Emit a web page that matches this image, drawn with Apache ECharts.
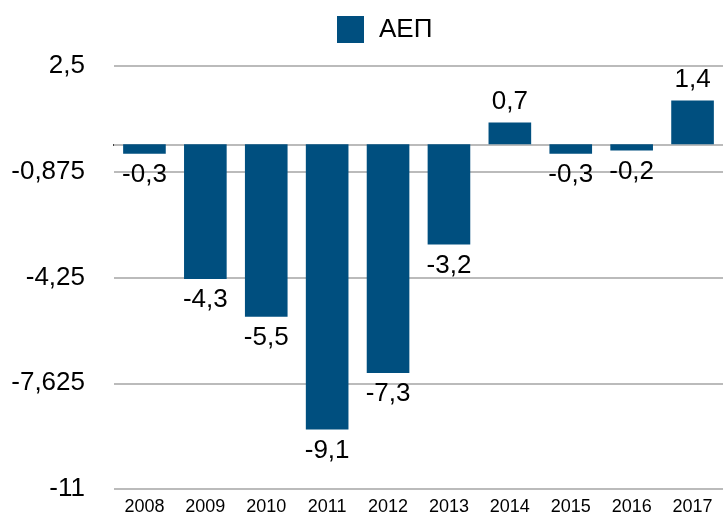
<!DOCTYPE html>
<html>
<head>
<meta charset="utf-8">
<script src="https://cdn.jsdelivr.net/npm/echarts@6/dist/echarts.min.js"></script>
<style>
  html, body { margin: 0; padding: 0; background: #fff; }
  #chart { width: 723px; height: 518px; }
</style>
</head>
<body>
<div id="chart"></div>
<script>
// data
var years = ['2008', '2009', '2010', '2011', '2012', '2013', '2014', '2015', '2016', '2017']
var gdp = [-0.3, -4.3, -5.5, -9.1, -7.3, -3.2, 0.7, -0.3, -0.2, 1.4]
var seriesName = 'ΑΕΠ'

function comma(v) {
  return String(v).replace('.', ',')
}

var chart = echarts.init(document.getElementById('chart'))

var option = {
  animation: false,
  textStyle: { fontFamily: 'Liberation Sans, Arial, sans-serif' },
  legend: {
    data: [seriesName],
    left: 332,
    top: 11,
    itemWidth: 27,
    itemHeight: 27,
    icon: 'rect',
    textStyle: {
      fontSize: 26,
      color: '#000',
      padding: [0, 0, 0, 10],
      fontFamily: 'Liberation Sans, Arial, sans-serif'
    }
  },
  grid: {
    left: 114,
    right: -2,
    top: 66,
    bottom: 29,
    containLabel: false
  },
  xAxis: {
    type: 'category',
    data: years,
    axisLine: { lineStyle: { color: '#000', width: 2 } },
    axisTick: { show: false },
    axisLabel: { color: '#000', fontSize: 18, margin: 9 }
  },
  yAxis: {
    type: 'value',
    min: -11,
    max: 2.5,
    interval: 3.375,
    axisLine: { show: false },
    axisTick: { show: false },
    splitLine: { lineStyle: { color: '#bbbbbb', width: 2 } },
    axisLabel: {
      color: '#000',
      fontSize: 26,
      margin: 29,
      formatter: function (v) { return comma(v) }
    }
  },
  series: [{
    name: seriesName,
    type: 'bar',
    barCategoryGap: '30%',
    itemStyle: { color: '#004f7f' },
    data: gdp.map(function (v) {
      return {
        value: v,
        label: { position: v < 0 ? 'bottom' : 'top' }
      }
    }),
    label: {
      show: true,
      color: '#000',
      fontSize: 26,
      distance: 8,
      formatter: function (p) { return comma(p.value) }
    },
    markLine: {
      silent: true,
      symbol: 'none',
      label: { show: false },
      lineStyle: { color: '#bbbbbb', width: 2, type: 'solid' },
      data: [{ yAxis: 0 }],
      z: 1
    },
    z: 3
  }]
}

chart.setOption(option)
</script>
</body>
</html>
